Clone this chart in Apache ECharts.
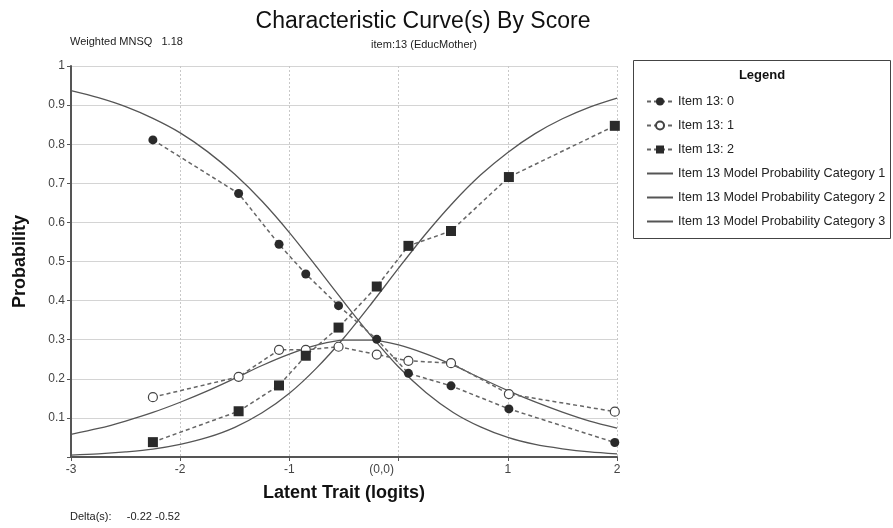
<!DOCTYPE html>
<html><head><meta charset="utf-8">
<script src="https://cdn.jsdelivr.net/npm/echarts@6/dist/echarts.min.js"></script>
<style>html,body{margin:0;padding:0;background:#fff}#c{width:893px;height:528px}</style>
</head><body><div id="c"></div>
<script>
// Observed group means (logits) and observed proportions
const groupTheta = [-2.25, -1.465, -1.095, -0.85, -0.55, -0.2, 0.09, 0.48, 1.01, 1.98];
const obsItem0 = [0.811, 0.674, 0.544, 0.468, 0.387, 0.301, 0.214, 0.182, 0.123, 0.037];
const obsItem1 = [0.153, 0.205, 0.274, 0.274, 0.282, 0.262, 0.246, 0.240, 0.161, 0.116];
const obsItem2 = [0.038, 0.117, 0.183, 0.259, 0.331, 0.436, 0.540, 0.578, 0.716, 0.847];
// Model curves read at these theta values
const modelTheta = [-3, -2.75, -2.5, -2.25, -2, -1.75, -1.5, -1.25, -1, -0.75, -0.5, -0.25, 0, 0.25, 0.5, 0.75, 1, 1.25, 1.5, 1.75, 2];
const modelCat1 = [0.937, 0.919, 0.896, 0.866, 0.829, 0.781, 0.723, 0.654, 0.574, 0.486, 0.396, 0.309, 0.230, 0.165, 0.114, 0.077, 0.050, 0.032, 0.021, 0.013, 0.008];
const modelCat2 = [0.058, 0.073, 0.092, 0.114, 0.140, 0.169, 0.201, 0.234, 0.263, 0.286, 0.299, 0.299, 0.287, 0.264, 0.235, 0.202, 0.170, 0.141, 0.115, 0.092, 0.074];
const modelCat3 = [0.005, 0.008, 0.013, 0.020, 0.032, 0.050, 0.076, 0.113, 0.163, 0.228, 0.305, 0.392, 0.483, 0.571, 0.651, 0.721, 0.779, 0.827, 0.865, 0.895, 0.918];
const seriesNames = ['Item 13: 0', 'Item 13: 1', 'Item 13: 2',
  'Item 13 Model Probability Category 1', 'Item 13 Model Probability Category 2', 'Item 13 Model Probability Category 3'];
const xTickLabels = {'-3': '-3', '-2': '-2', '-1': '-1', '0': '(0,0)', '1': '1', '2': '2'};

const pair = (xs, ys) => xs.map((x, i) => [x, ys[i]]);
const FONT = 'Liberation Sans, Arial, sans-serif';

function obsSeries(name, ys, symbol, filled, size) {
  return {
    name, type: 'line', data: pair(groupTheta, ys), symbol, symbolSize: size,
    lineStyle: {color: '#666', width: 1.5, type: [4, 3]},
    itemStyle: {color: filled ? '#2a2a2a' : '#fff', borderColor: '#444', borderWidth: filled ? 0 : 1.2},
    z: 5
  };
}
function modelSeries(name, ys) {
  return {
    name, type: 'line', data: pair(modelTheta, ys), symbol: 'none', smooth: 0.3,
    lineStyle: {color: '#555', width: 1.3}, itemStyle: {color: '#555'}, z: 3
  };
}

const legendData = seriesNames.map((n, i) => i < 3 ? {name: n} : {name: n, itemStyle: {opacity: 0}});

const chart = echarts.init(document.getElementById('c'), null, {renderer: 'canvas'});
chart.setOption({
  backgroundColor: '#fff',
  animation: false,
  grid: {left: 71, right: 276, top: 66, bottom: 71},
  xAxis: {
    type: 'value', min: -3, max: 2, interval: 1,
    name: 'Latent Trait (logits)', nameLocation: 'middle', nameGap: 27,
    nameTextStyle: {fontFamily: FONT, fontSize: 18, fontWeight: 'bold', color: '#111'},
    axisLine: {onZero: false, lineStyle: {color: '#555', width: 2}},
    axisTick: {show: true, length: 4, lineStyle: {color: '#555'}},
    axisLabel: {
      fontFamily: FONT, fontSize: 12, color: '#444', margin: 7,
      formatter: v => v === 0 ? '{z|' + xTickLabels['0'] + '}' : (xTickLabels[String(v)] || ''),
      rich: {z: {fontFamily: FONT, fontSize: 12, color: '#444', padding: [0, 34, 0, 0]}}
    },
    splitLine: {show: true, lineStyle: {color: '#c8c8c8', type: [2, 2], width: 1}}
  },
  yAxis: {
    type: 'value', min: 0, max: 1, interval: 0.1,
    name: 'Probability', nameLocation: 'middle', nameGap: 42, nameRotate: 90,
    nameTextStyle: {fontFamily: FONT, fontSize: 18, fontWeight: 'bold', color: '#111'},
    axisLine: {show: true, onZero: false, lineStyle: {color: '#555', width: 2}},
    axisTick: {show: true, length: 4, lineStyle: {color: '#555'}},
    axisLabel: {fontFamily: FONT, fontSize: 12, color: '#444', margin: 6,
      formatter: v => v === 0 ? '' : String(Math.round(v * 10) / 10)},
    splitLine: {show: true, lineStyle: {color: '#d4d4d4', width: 1}}
  },
  legend: {
    orient: 'vertical', left: 641, top: 90, itemGap: 11, itemWidth: 26, itemHeight: 10,
    data: legendData,
    textStyle: {fontFamily: FONT, fontSize: 12.6, color: '#222'},
    inactiveColor: '#222'
  },
  graphic: [
    {type: 'rect', shape: {x: 633.5, y: 60.5, width: 257, height: 178}, style: {fill: '#fff', stroke: '#444', lineWidth: 1}, z: 0},
    {type: 'text', x: 762, y: 69, style: {text: 'Legend', font: 'bold 13px ' + FONT, fill: '#111', textAlign: 'center'}},
    {type: 'text', x: 423, y: 10, style: {text: 'Characteristic Curve(s) By Score', font: '23px ' + FONT, fill: '#111', textAlign: 'center'}},
    {type: 'text', x: 424, y: 39, style: {text: 'item:13 (EducMother)', font: '11px ' + FONT, fill: '#222', textAlign: 'center'}},
    {type: 'text', x: 70, y: 36, style: {text: 'Weighted MNSQ   1.18', font: '11px ' + FONT, fill: '#222'}},
    {type: 'text', x: 70, y: 511, style: {text: 'Delta(s):     -0.22 -0.52', font: '11px ' + FONT, fill: '#222'}}
  ],
  series: [
    obsSeries(seriesNames[0], obsItem0, 'circle', true, 9),
    obsSeries(seriesNames[1], obsItem1, 'circle', false, 9),
    obsSeries(seriesNames[2], obsItem2, 'rect', true, 10),
    modelSeries(seriesNames[3], modelCat1),
    modelSeries(seriesNames[4], modelCat2),
    modelSeries(seriesNames[5], modelCat3)
  ]
});
</script></body></html>
